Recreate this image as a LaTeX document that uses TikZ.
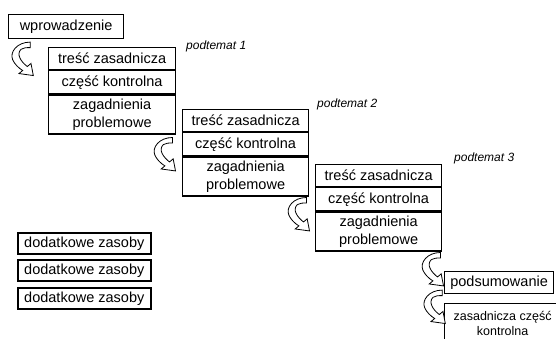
\documentclass[tikz,border=0pt]{standalone}
\usepackage{fontspec}
\setmainfont{Liberation Sans}
\usetikzlibrary{calc}
\tikzset{
  cell/.style={draw, line width=1.2pt, fill=white, anchor=north west, inner sep=0pt,
    align=center, font=\fontsize{14.5}{18}\selectfont},
  topic/.style={anchor=west, inner sep=0pt, font=\fontsize{12}{14}\selectfont\itshape},
  extra/.style={draw, line width=1.6pt, anchor=north west, inner sep=0pt,
    minimum width=133pt, minimum height=21pt, font=\fontsize{14.5}{18}\selectfont},
  bend arrow/.pic={
    \draw[line width=0.8pt, fill=white, line join=miter, xscale=1.3, yscale=1.1]
      (14,-1) .. controls (4,-1) and (-2,8) .. (0.5,15)
      .. controls (2,19) and (5,22.5) .. (8.2,24.8)
      -- (5.4,27.6) -- (16.4,29.4) -- (14.6,18.4) -- (11.8,21.2)
      .. controls (7,17) and (3,10) .. (7,5.5)
      .. controls (9,4) and (11,4) .. (14,4) -- cycle;
  }
}
\begin{document}
\begin{tikzpicture}[x=1pt, y=-1pt]
\useasboundingbox (0,0) rectangle (556,338);
\clip (0,0) rectangle (556,338);

% introduction
\node[cell, minimum width=115pt, minimum height=24pt] (wp) at (8,14) {wprowadzenie};

% topic 1
\node[cell, minimum width=127pt, minimum height=22pt] (g1t) at (48,47) {treść zasadnicza};
\node[cell, minimum width=127pt, minimum height=23pt] (g1c) at (g1t.south west) {część kontrolna};
\node[cell, minimum width=127pt, minimum height=39pt] (g1z) at (g1c.south west) {zagadnienia\\problemowe};
\node[topic] (p1) at (186,46) {podtemat 1};

% topic 2
\node[cell, minimum width=126pt, minimum height=22pt] (g2t) at (182,109) {treść zasadnicza};
\node[cell, minimum width=126pt, minimum height=23pt] (g2c) at (g2t.south west) {część kontrolna};
\node[cell, minimum width=126pt, minimum height=39pt] (g2z) at (g2c.south west) {zagadnienia\\problemowe};
\node[topic] (p2) at (317,104) {podtemat 2};

% topic 3
\node[cell, minimum width=126pt, minimum height=22pt] (g3t) at (315,164) {treść zasadnicza};
\node[cell, minimum width=126pt, minimum height=23pt] (g3c) at (g3t.south west) {część kontrolna};
\node[cell, minimum width=126pt, minimum height=39pt] (g3z) at (g3c.south west) {zagadnienia\\problemowe};
\node[topic] (p3) at (454,158) {podtemat 3};

% summary
\node[cell, minimum width=109pt, minimum height=22pt] (sum) at (444,271) {podsumowanie};
\node[cell, minimum width=116pt, minimum height=39pt, font=\fontsize{12.5}{15}\selectfont] (fin) at (444,303) {zasadnicza część\\kontrolna};

% additional resources
\node[extra] (r1) at (17,232) {dodatkowe zasoby};
\node[extra] (r2) at (17,259) {dodatkowe zasoby};
\node[extra] (r3) at (17,287) {dodatkowe zasoby};

% transitions
\pic at ($(wp.south west)+(4,4)$) {bend arrow};
\pic at ($(g1z.south east)+(-22,4)$) {bend arrow};
\pic at ($(g2z.south east)+(-21,2)$) {bend arrow};
\pic at ($(g3z.south east)+(-20,2)$) {bend arrow};
\pic at ($(sum.south west)+(-20,-3)$) {bend arrow};
\end{tikzpicture}
\end{document}
